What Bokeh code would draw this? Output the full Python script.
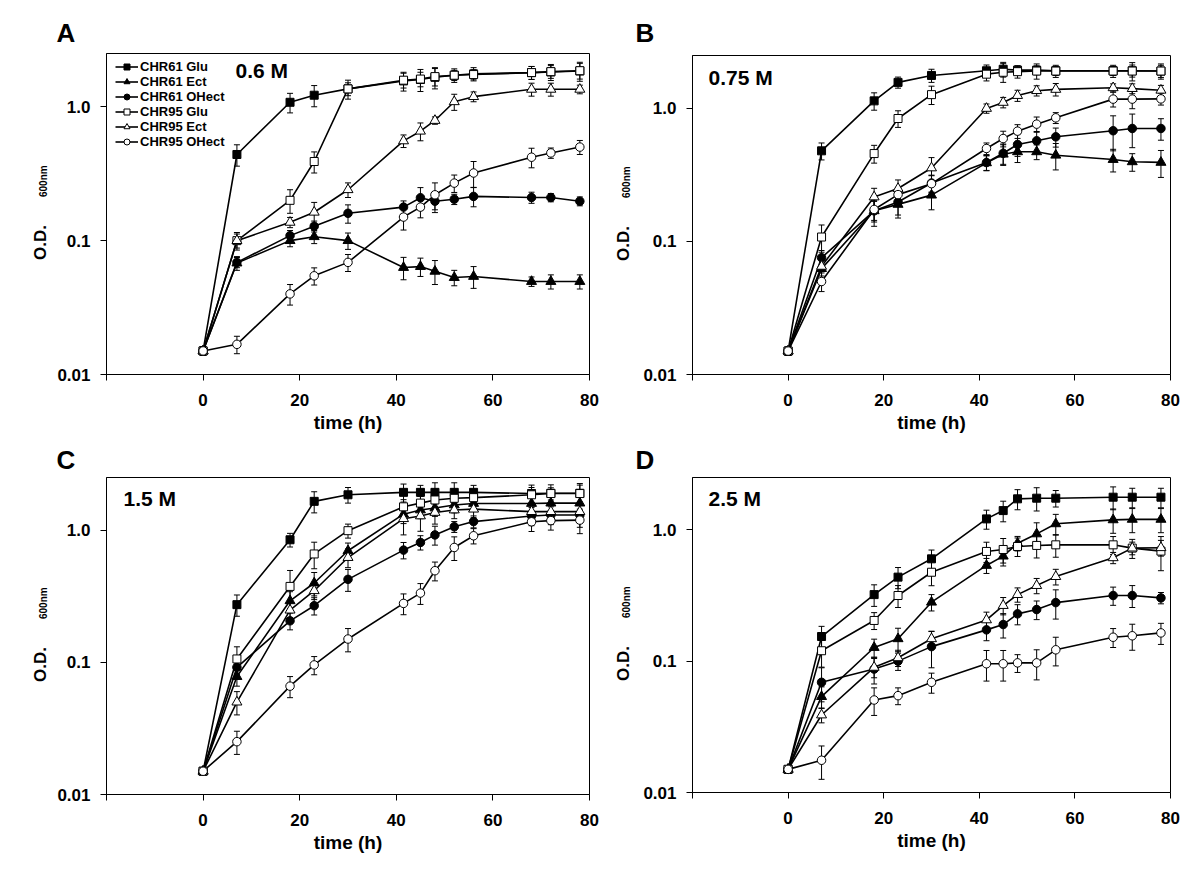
import math
from bokeh.plotting import figure
from bokeh.models import (ColumnDataSource, Whisker, TeeHead, Label, Legend,
                          LegendItem, FixedTicker, Range1d)
from bokeh.layouts import column, row
from bokeh.embed import file_html
from bokeh.resources import INLINE

# ---------------- data ----------------
time_h = [0, 7, 18, 23, 30, 41.5, 45, 48, 52, 56, 68, 72, 78]
series_names = ["CHR61 Glu", "CHR61 Ect", "CHR61 OHect",
                "CHR95 Glu", "CHR95 Ect", "CHR95 OHect"]
panel_letters = ["A", "B", "C", "D"]
concentrations = ["0.6 M", "0.75 M", "1.5 M", "2.5 M"]
x_ticks = [-20, 0, 20, 40, 60, 80]
x_tick_labels = ["", "0", "20", "40", "60", "80"]
y_ticks = [0.01, 0.1, 1.0]
y_tick_labels = ["0.01", "0.1", "1.0"]
x_title = "time (h)"
y_title = "O.D."
y_title_sub = "600nm"

# Panel A (0.6 M)
a_glu61 = [0.015, 0.44, 1.08, 1.22, 1.36, 1.56, 1.60, 1.66, 1.72, 1.76, 1.80, 1.82, 1.85]
a_ect61 = [0.015, 0.068, 0.100, 0.107, 0.100, 0.063, 0.064, 0.059, 0.053, 0.054, 0.0495, 0.0495, 0.0495]
a_oh61 = [0.015, 0.0688, 0.109, 0.128, 0.160, 0.178, 0.209, 0.197, 0.204, 0.214, 0.210, 0.210, 0.197]
a_glu95 = [0.015, 0.100, 0.200, 0.390, 1.36, 1.58, 1.61, 1.68, 1.72, 1.74, 1.80, 1.83, 1.86]
a_ect95 = [0.015, 0.100, 0.137, 0.163, 0.240, 0.556, 0.657, 0.790, 1.09, 1.19, 1.35, 1.35, 1.35]
a_oh95 = [0.015, 0.0168, 0.040, 0.0546, 0.0688, 0.150, 0.178, 0.220, 0.269, 0.320, 0.420, 0.452, 0.500]
a_glu61_err = [0.001, 0.08, 0.18, 0.22, 0.22, 0.25, 0.30, 0.30, 0.20, 0.20, 0.20, 0.25, 0.30]
a_ect61_err = [0.001, 0.008, 0.010, 0.012, 0.014, 0.012, 0.010, 0.012, 0.007, 0.010, 0.004, 0.006, 0.006]
a_oh61_err = [0.001, 0.006, 0.010, 0.012, 0.025, 0.020, 0.040, 0.035, 0.018, 0.035, 0.020, 0.015, 0.015]
a_glu95_err = [0.001, 0.012, 0.040, 0.070, 0.15, 0.20, 0.20, 0.25, 0.15, 0.15, 0.20, 0.20, 0.25]
a_ect95_err = [0.001, 0.015, 0.012, 0.030, 0.030, 0.060, 0.100, 0.050, 0.15, 0.10, 0.15, 0.15, 0.10]
a_oh95_err = [0.001, 0.0025, 0.007, 0.008, 0.010, 0.030, 0.030, 0.050, 0.040, 0.070, 0.070, 0.040, 0.060]

# Panel B (0.75 M)
b_glu61 = [0.015, 0.48, 1.14, 1.57, 1.77, 1.92, 1.97, 1.94, 1.94, 1.92, 1.92, 1.92, 1.91]
b_ect61 = [0.015, 0.0625, 0.170, 0.190, 0.223, 0.390, 0.453, 0.472, 0.472, 0.445, 0.413, 0.397, 0.393]
b_oh61 = [0.015, 0.0755, 0.170, 0.198, 0.275, 0.392, 0.460, 0.536, 0.571, 0.612, 0.680, 0.707, 0.707]
b_glu95 = [0.015, 0.108, 0.458, 0.840, 1.27, 1.81, 1.87, 1.89, 1.91, 1.91, 1.91, 1.91, 1.91]
b_ect95 = [0.015, 0.065, 0.216, 0.250, 0.357, 1.00, 1.11, 1.25, 1.36, 1.39, 1.43, 1.41, 1.37]
b_oh95 = [0.015, 0.050, 0.174, 0.225, 0.272, 0.500, 0.594, 0.675, 0.762, 0.850, 1.175, 1.175, 1.18]
b_glu61_err = [0.001, 0.07, 0.17, 0.15, 0.20, 0.20, 0.25, 0.15, 0.15, 0.15, 0.15, 0.20, 0.20]
b_ect61_err = [0.001, 0.010, 0.040, 0.040, 0.050, 0.050, 0.080, 0.080, 0.060, 0.100, 0.080, 0.060, 0.090]
b_oh61_err = [0.001, 0.010, 0.030, 0.040, 0.040, 0.050, 0.080, 0.100, 0.100, 0.100, 0.200, 0.200, 0.130]
b_glu95_err = [0.001, 0.025, 0.070, 0.120, 0.20, 0.20, 0.30, 0.20, 0.25, 0.20, 0.20, 0.30, 0.25]
b_ect95_err = [0.001, 0.010, 0.035, 0.040, 0.070, 0.080, 0.100, 0.120, 0.120, 0.150, 0.100, 0.120, 0.120]
b_oh95_err = [0.001, 0.008, 0.030, 0.030, 0.040, 0.050, 0.080, 0.080, 0.100, 0.080, 0.150, 0.180, 0.120]

# Panel C (1.5 M)
c_glu61 = [0.015, 0.273, 0.845, 1.65, 1.85, 1.93, 1.93, 1.93, 1.93, 1.93, 1.89, 1.90, 1.90]
c_ect61 = [0.015, 0.078, 0.292, 0.398, 0.698, 1.32, 1.42, 1.47, 1.55, 1.59, 1.59, 1.60, 1.60]
c_oh61 = [0.015, 0.0917, 0.206, 0.268, 0.424, 0.706, 0.807, 0.920, 1.06, 1.16, 1.28, 1.30, 1.30]
c_glu95 = [0.015, 0.106, 0.375, 0.660, 0.990, 1.50, 1.60, 1.69, 1.74, 1.76, 1.85, 1.89, 1.89]
c_ect95 = [0.015, 0.050, 0.248, 0.348, 0.620, 1.22, 1.28, 1.36, 1.42, 1.44, 1.38, 1.38, 1.38]
c_oh95 = [0.015, 0.0251, 0.066, 0.0955, 0.150, 0.279, 0.334, 0.493, 0.739, 0.906, 1.156, 1.18, 1.19]
c_glu61_err = [0.001, 0.05, 0.10, 0.30, 0.25, 0.30, 0.25, 0.35, 0.35, 0.25, 0.30, 0.30, 0.35]
c_ect61_err = [0.001, 0.012, 0.050, 0.080, 0.100, 0.20, 0.20, 0.20, 0.20, 0.20, 0.20, 0.20, 0.25]
c_oh61_err = [0.001, 0.012, 0.030, 0.040, 0.080, 0.100, 0.100, 0.150, 0.100, 0.120, 0.200, 0.200, 0.250]
c_glu95_err = [0.001, 0.025, 0.120, 0.150, 0.120, 0.20, 0.20, 0.25, 0.25, 0.20, 0.25, 0.20, 0.30]
c_ect95_err = [0.001, 0.010, 0.040, 0.050, 0.100, 0.30, 0.30, 0.25, 0.20, 0.20, 0.20, 0.20, 0.25]
c_oh95_err = [0.001, 0.005, 0.012, 0.015, 0.030, 0.050, 0.060, 0.080, 0.150, 0.120, 0.180, 0.180, 0.250]

# Panel D (2.5 M)
d_glu61 = [0.015, 0.154, 0.321, 0.436, 0.601, 1.21, 1.40, 1.72, 1.74, 1.74, 1.77, 1.77, 1.77]
d_ect61 = [0.015, 0.0537, 0.127, 0.148, 0.281, 0.535, 0.630, 0.790, 0.930, 1.11, 1.19, 1.20, 1.20]
d_oh61 = [0.015, 0.069, 0.087, 0.100, 0.129, 0.173, 0.190, 0.229, 0.247, 0.279, 0.316, 0.316, 0.303]
d_glu95 = [0.015, 0.120, 0.204, 0.316, 0.475, 0.684, 0.708, 0.746, 0.760, 0.768, 0.768, 0.725, 0.688]
d_ect95 = [0.015, 0.0389, 0.0897, 0.106, 0.148, 0.206, 0.265, 0.321, 0.376, 0.440, 0.612, 0.725, 0.730]
d_oh95 = [0.015, 0.0176, 0.0506, 0.0546, 0.069, 0.0955, 0.0955, 0.097, 0.097, 0.122, 0.152, 0.156, 0.164]
d_glu61_err = [0.001, 0.030, 0.060, 0.080, 0.100, 0.20, 0.25, 0.30, 0.35, 0.25, 0.35, 0.30, 0.30]
d_ect61_err = [0.001, 0.010, 0.020, 0.030, 0.040, 0.070, 0.100, 0.100, 0.200, 0.200, 0.250, 0.250, 0.250]
d_oh61_err = [0.001, 0.020, 0.020, 0.015, 0.040, 0.030, 0.040, 0.040, 0.040, 0.070, 0.050, 0.060, 0.030]
d_glu95_err = [0.001, 0.030, 0.030, 0.060, 0.100, 0.120, 0.150, 0.120, 0.150, 0.150, 0.120, 0.120, 0.200]
d_ect95_err = [0.001, 0.005, 0.015, 0.015, 0.020, 0.030, 0.040, 0.040, 0.050, 0.060, 0.060, 0.080, 0.100]
d_oh95_err = [0.001, 0.005, 0.012, 0.008, 0.012, 0.025, 0.025, 0.015, 0.025, 0.030, 0.025, 0.035, 0.030]

panel_values = [
    [a_glu61, a_ect61, a_oh61, a_glu95, a_ect95, a_oh95],
    [b_glu61, b_ect61, b_oh61, b_glu95, b_ect95, b_oh95],
    [c_glu61, c_ect61, c_oh61, c_glu95, c_ect95, c_oh95],
    [d_glu61, d_ect61, d_oh61, d_glu95, d_ect95, d_oh95],
]
panel_errors = [
    [a_glu61_err, a_ect61_err, a_oh61_err, a_glu95_err, a_ect95_err, a_oh95_err],
    [b_glu61_err, b_ect61_err, b_oh61_err, b_glu95_err, b_ect95_err, b_oh95_err],
    [c_glu61_err, c_ect61_err, c_oh61_err, c_glu95_err, c_ect95_err, c_oh95_err],
    [d_glu61_err, d_ect61_err, d_oh61_err, d_glu95_err, d_ect95_err, d_oh95_err],
]

# ---------------- style / layout ----------------
FONT = "Liberation Sans"
MARKERS = ["square", "triangle", "circle", "square", "triangle", "circle"]
FILLS = ["black", "black", "black", "white", "white", "white"]
SIZES = [8, 10, 8.5, 8, 10, 8.5]
X_MIN, X_MAX = -20, 80
Y_MIN, Y_MAX = 0.01, 2.5
BASE_SHIFT = 0.4   # label anchor sits this many em above the text baseline

# page geometry (px), measured from the page's top-left corner
ROW1_TOP, STRIP1_H, ROW1_H = 0, 50, 391
ROW2_TOP, STRIP2_H, ROW2_H = 50 + 391, 35, 397
TOTAL_W = 1192
LEFT_STRIP_W, RIGHT_STRIP_W = 52, 40

# frame size and borders of each panel figure, plus text placements (page px)
PANELS = [
    dict(fw=483, fh=321, bl=54, br=11, bt=3, bb=67, letter=(56, 43), conc=(129, 25),
         yl_x=46.5, frame_top=53, strip_left=0),
    dict(fw=478, fh=319, bl=51, br=23, bt=5, bb=67, letter=(635, 43), conc=(16, 30),
         yl_x=630, frame_top=55, strip_left=600),
    dict(fw=483, fh=317, bl=54, br=11, bt=1, bb=79, letter=(56, 470), conc=(17, 29.7),
         yl_x=47, frame_top=477, strip_left=0),
    dict(fw=478, fh=315, bl=51, br=23, bt=1, bb=81, letter=(635, 470), conc=(16, 29.7),
         yl_x=630, frame_top=477, strip_left=600),
]


def rel_to_data(dx, dy, fw, fh):
    """pixel offset from a panel frame's top-left corner -> data coordinates"""
    xd = X_MIN + dx / fw * (X_MAX - X_MIN)
    l0, l1 = math.log10(Y_MIN), math.log10(Y_MAX)
    yd = 10 ** (l1 - dy / fh * (l1 - l0))
    return xd, yd


def text_label(x, y, text, size, angle=0.0):
    return Label(x=x, y=y, text=text, angle=angle,
                 text_font=FONT, text_font_size=f"{size}px",
                 text_font_style="bold", text_color="black",
                 text_align="left", text_baseline="alphabetic")


def make_strip(W, H):
    s = figure(width=W, height=H, x_range=Range1d(0, W), y_range=Range1d(0, H),
               min_border=0, toolbar_location=None, output_backend="svg",
               x_axis_location=None, y_axis_location=None, frame_align=False,
               background_fill_color="white", border_fill_color="white")
    s.outline_line_color = None
    s.grid.visible = False
    return s


def add_strip_text(s, left, top, H, px, py, text, size, angle=0.0):
    s.add_layout(text_label(px - left, top + H - py, text, size, angle))


def make_panel(k):
    cfg = PANELS[k]
    p = figure(frame_width=cfg["fw"], frame_height=cfg["fh"],
               min_border_left=cfg["bl"], min_border_right=cfg["br"],
               min_border_top=cfg["bt"], min_border_bottom=cfg["bb"],
               x_range=Range1d(X_MIN, X_MAX), y_range=Range1d(Y_MIN, Y_MAX),
               y_axis_type="log", output_backend="svg", toolbar_location=None,
               frame_align=False,
               background_fill_color="white", border_fill_color="white")
    p.grid.visible = False
    p.outline_line_color = "black"
    p.outline_line_width = 1
    p.outline_line_alpha = 1.0

    for ax in (p.xaxis[0], p.yaxis[0]):
        ax.axis_line_color = "black"
        ax.axis_line_width = 1
        ax.major_tick_line_color = "black"
        ax.major_tick_line_width = 1
        ax.major_tick_out = 6
        ax.major_tick_in = 0
        ax.minor_tick_line_color = None
        ax.major_label_text_font = FONT
        ax.major_label_text_font_size = "17px"
        ax.major_label_text_font_style = "bold"
        ax.major_label_text_color = "black"

    p.xaxis.ticker = FixedTicker(ticks=x_ticks)
    p.xaxis.major_label_overrides = dict(zip(x_ticks, x_tick_labels))
    p.xaxis.major_label_standoff = 13
    p.xaxis.axis_label = x_title
    p.xaxis.axis_label_text_font = FONT
    p.xaxis.axis_label_text_font_size = "19px"
    p.xaxis.axis_label_text_font_style = "bold"
    p.xaxis.axis_label_text_color = "black"
    p.xaxis.axis_label_standoff = 3

    p.yaxis.ticker = FixedTicker(ticks=y_ticks)
    p.yaxis.major_label_overrides = dict(zip(y_ticks, y_tick_labels))
    p.yaxis.major_label_standoff = 10

    vals = panel_values[k]
    errs = panel_errors[k]

    # error bars
    for v, e in zip(vals, errs):
        src = ColumnDataSource(dict(x=time_h,
                                    upper=[a + b for a, b in zip(v, e)],
                                    lower=[a - b for a, b in zip(v, e)]))
        p.add_layout(Whisker(source=src, base="x", upper="upper", lower="lower",
                             dimension="height", line_color="black", line_width=1,
                             upper_head=TeeHead(size=6, line_color="black", line_width=1),
                             lower_head=TeeHead(size=6, line_color="black", line_width=1)))

    line_rs = [p.line(time_h, v, line_color="black", line_width=1.6) for v in vals]
    marker_rs = [p.scatter(time_h, vals[i], marker=MARKERS[i], size=SIZES[i],
                           fill_color=FILLS[i], line_color="black", line_width=1)
                 for i in range(6)]

    if k == 0:
        items = [LegendItem(label=series_names[i], renderers=[line_rs[i], marker_rs[i]])
                 for i in range(6)]
        legend = Legend(items=items, location=(9, cfg["fh"] - 6 - 90),
                        padding=0, margin=0, spacing=0,
                        glyph_width=23, glyph_height=15, label_height=15,
                        label_standoff=2, label_text_font=FONT,
                        label_text_font_size="13px", label_text_font_style="bold",
                        label_text_color="black",
                        background_fill_alpha=0, border_line_color=None)
        p.add_layout(legend)

    fs = 21
    cx, cy = rel_to_data(cfg["conc"][0], cfg["conc"][1] - BASE_SHIFT * fs, cfg["fw"], cfg["fh"])
    p.add_layout(text_label(cx, cy, concentrations[k], fs))
    return p


panels = [make_panel(k) for k in range(4)]

# strips above each row (panel letters)
top1 = make_strip(TOTAL_W, STRIP1_H)
top2 = make_strip(TOTAL_W, STRIP2_H)
LETTER_FS = 26
for k, (strip, stop, sh) in enumerate([(top1, ROW1_TOP, STRIP1_H), (top1, ROW1_TOP, STRIP1_H),
                                       (top2, ROW2_TOP, STRIP2_H), (top2, ROW2_TOP, STRIP2_H)]):
    lx, ly = PANELS[k]["letter"]
    add_strip_text(strip, 0, stop, sh, lx, ly - BASE_SHIFT * LETTER_FS, panel_letters[k], LETTER_FS)

# strips left of each panel (y-axis title with subscript)
side = []
for k in range(4):
    cfg = PANELS[k]
    W = LEFT_STRIP_W if k % 2 == 0 else RIGHT_STRIP_W
    top = ROW1_TOP + STRIP1_H if k < 2 else ROW2_TOP + STRIP2_H
    H = ROW1_H if k < 2 else ROW2_H
    s = make_strip(W, H)
    mid = cfg["frame_top"] + cfg["fh"] / 2
    add_strip_text(s, cfg["strip_left"], top, H, cfg["yl_x"] - BASE_SHIFT * 17, mid + 46,
                   y_title, 17, math.pi / 2)
    add_strip_text(s, cfg["strip_left"], top, H, cfg["yl_x"] - BASE_SHIFT * 10, mid - 17,
                   y_title_sub, 10, math.pi / 2)
    side.append(s)

layout = column(
    top1,
    row(side[0], panels[0], side[1], panels[1]),
    top2,
    row(side[2], panels[2], side[3], panels[3]),
)

open("out.html", "w").write(file_html(layout, INLINE))
